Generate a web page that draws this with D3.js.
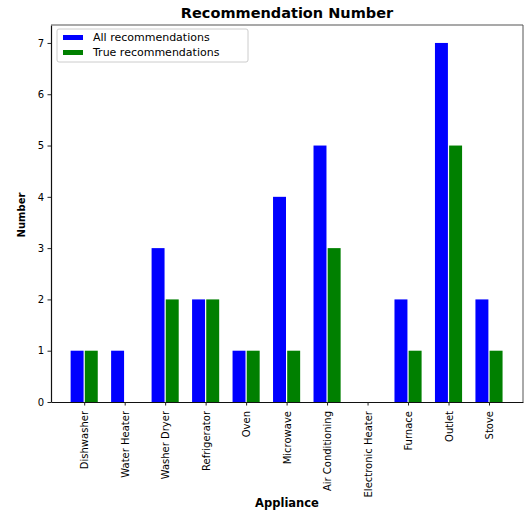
<!DOCTYPE html>
<html>
<head>
<meta charset="utf-8">
<script src="https://cdn.jsdelivr.net/npm/d3@7"></script>
<style>
    body { margin: 0; background: #fff; }
    svg { font-family: "DejaVu Sans", sans-serif; }
</style>
</head>
<body>
<svg id="chart"></svg>
<script>
const appliances = ["Dishwasher", "Water Heater", "Washer Dryer", "Refrigerator", "Oven", "Microwave",
    "Air Conditioning", "Electronic Heater", "Furnace", "Outlet", "Stove"];
const allRecs = [1, 1, 3, 2, 1, 4, 5, 0, 2, 7, 2];
const trueRecs = [1, 0, 2, 2, 1, 1, 3, 0, 1, 5, 1];
const yTicks = [0, 1, 2, 3, 4, 5, 6, 7];
const seriesNames = ["All recommendations", "True recommendations"];
const seriesColors = ["#0000ff", "#008000"];

const W = 524, H = 510;
const margin = { top: 25, right: 1, bottom: 108, left: 51 };
const width = W - margin.left - margin.right;
const height = H - margin.top - margin.bottom;
const barW = 0.335;

const svg = d3.select("#chart").attr("width", W).attr("height", H);
const g = svg.append("g").attr("transform", `translate(${margin.left}, ${margin.top})`);

const x = d3.scaleLinear().domain([-0.82, 10.84]).range([0, width]);
const y = d3.scaleLinear().domain([0, 7.35]).range([height, 0]);

// bars
[allRecs, trueRecs].forEach((vals, s) => {
    g.append("g").selectAll("rect")
        .data(vals)
        .join("rect")
        .attr("x", (d, i) => s === 0 ? x(i - barW) : x(i) + 0.6)
        .attr("y", d => y(d))
        .attr("width", x(barW) - x(0) - 0.6)
        .attr("height", d => y(0) - y(d))
        .attr("fill", seriesColors[s]);
});

// axes
const xAxis = g.append("g")
    .attr("transform", `translate(0, ${height})`)
    .call(d3.axisBottom(x).tickValues(d3.range(appliances.length)).tickFormat(i => appliances[i]).tickSize(3.5).tickSizeOuter(0));
xAxis.selectAll("text")
    .attr("transform", "rotate(-90)")
    .attr("text-anchor", "end")
    .attr("dy", "0.35em")
    .attr("x", -9)
    .attr("y", 0)
    .style("font-size", "10px")
    .style("font-family", "DejaVu Sans");

const yAxis = g.append("g")
    .call(d3.axisLeft(y).tickValues(yTicks).tickFormat(d3.format("d")).tickSize(3.5).tickSizeOuter(0));
yAxis.selectAll("text")
    .attr("x", -7)
    .style("font-size", "10px")
    .style("font-family", "DejaVu Sans");

[xAxis, yAxis].forEach(a => {
    a.select(".domain").attr("stroke", "#111").attr("stroke-width", 1.2);
    a.selectAll(".tick line").attr("stroke", "#222");
});

// top and right spines
g.append("line").attr("x1", 0).attr("x2", width).attr("y1", 0).attr("y2", 0)
    .attr("stroke", "#555").attr("stroke-width", 1.2);
g.append("line").attr("x1", width).attr("x2", width).attr("y1", 0).attr("y2", height)
    .attr("stroke", "#555").attr("stroke-width", 1);

// title and labels
svg.append("text")
    .attr("x", margin.left + width / 2)
    .attr("y", 18)
    .attr("text-anchor", "middle")
    .attr("font-weight", "bold")
    .style("font-size", "14.5px")
    .text("Recommendation Number");

svg.append("text")
    .attr("x", margin.left + width / 2)
    .attr("y", 507)
    .attr("text-anchor", "middle")
    .attr("font-weight", "bold")
    .style("font-size", "11.5px")
    .text("Appliance");

svg.append("text")
    .attr("transform", `translate(25, 215) rotate(-90)`)
    .attr("text-anchor", "middle")
    .attr("font-weight", "bold")
    .style("font-size", "10px")
    .text("Number");

// legend
const legend = svg.append("g").attr("transform", "translate(57, 29)");
legend.append("rect")
    .attr("width", 191).attr("height", 33).attr("rx", 2)
    .attr("fill", "#fff").attr("stroke", "#ccc");
seriesNames.forEach((name, i) => {
    legend.append("rect")
        .attr("x", 6).attr("y", 6 + i * 15)
        .attr("width", 20).attr("height", 5)
        .attr("fill", seriesColors[i]);
    legend.append("text")
        .attr("x", 36).attr("y", 8.5 + i * 15)
        .attr("dy", "0.35em")
        .style("font-size", "11px")
        .text(name);
});
</script>
</body>
</html>
